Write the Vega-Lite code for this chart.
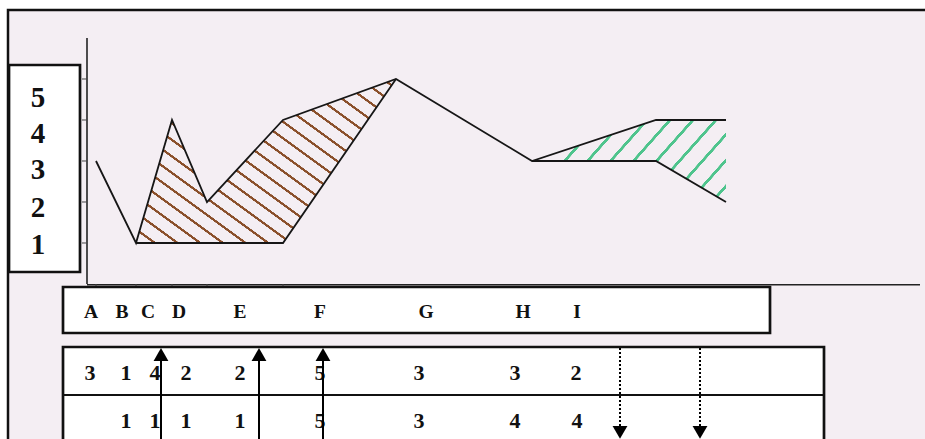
{
  "$schema": "https://vega.github.io/schema/vega-lite/v6.json",
  "width": 925,
  "height": 439,
  "autosize": {"type": "none"},
  "padding": 0,
  "background": "#ffffff",
  "view": {"stroke": null},
  "config": {
    "text": {"font": "Liberation Serif", "fontWeight": "bold", "align": "center", "baseline": "middle", "color": "#111111"}
  },
  "datasets": {
    "series": [
      {"pt": "A", "x": 0.9, "upper": 3, "lower": null, "zone": null},
      {"pt": "B", "x": 4.9, "upper": 1, "lower": 1, "zone": "brown"},
      {"pt": "C", "x": 8.5, "upper": 4, "lower": 1, "zone": "brown"},
      {"pt": "D", "x": 12.0, "upper": 2, "lower": 1, "zone": "brown"},
      {"pt": "E", "x": 19.6, "upper": 4, "lower": 1, "zone": "brown"},
      {"pt": "F", "x": 30.9, "upper": 5, "lower": 5, "zone": "brown"},
      {"pt": "G", "x": 44.5, "upper": 3, "lower": 3, "zone": "green"},
      {"pt": "H", "x": 56.9, "upper": 4, "lower": 3, "zone": "green"},
      {"pt": "I", "x": 63.9, "upper": 4, "lower": 2, "zone": "green"}
    ],
    "yticks": [{"v": 1}, {"v": 2}, {"v": 3}, {"v": 4}, {"v": 5}],
    "ylabels": [
      {"text": "5", "pos": 4.537},
      {"text": "4", "pos": 3.659},
      {"text": "3", "pos": 2.78},
      {"text": "2", "pos": 1.854},
      {"text": "1", "pos": 0.951}
    ],
    "boxes": [
      {"box": "ylabels", "x": -7.8, "x2": -0.7, "y": 5.341, "y2": 0.293},
      {"box": "letters", "x": -2.4, "x2": 68.3, "y": -0.073, "y2": -1.195},
      {"box": "table", "x": -2.4, "x2": 73.7, "y": -1.537, "y2": -4.3}
    ],
    "labels": [
      {"row": "letters", "text": "A", "x": 0.4},
      {"row": "letters", "text": "B", "x": 3.5},
      {"row": "letters", "text": "C", "x": 6.1},
      {"row": "letters", "text": "D", "x": 9.2},
      {"row": "letters", "text": "E", "x": 15.3},
      {"row": "letters", "text": "F", "x": 23.3},
      {"row": "letters", "text": "G", "x": 33.9},
      {"row": "letters", "text": "H", "x": 43.6},
      {"row": "letters", "text": "I", "x": 49.0},
      {"row": "r1", "text": "3", "x": 0.3},
      {"row": "r1", "text": "1", "x": 3.9},
      {"row": "r1", "text": "4", "x": 6.8},
      {"row": "r1", "text": "2", "x": 9.9},
      {"row": "r1", "text": "2", "x": 15.3},
      {"row": "r1", "text": "5", "x": 23.3},
      {"row": "r1", "text": "3", "x": 33.2},
      {"row": "r1", "text": "3", "x": 42.8},
      {"row": "r1", "text": "2", "x": 48.9},
      {"row": "r2", "text": "1", "x": 3.9},
      {"row": "r2", "text": "1", "x": 6.8},
      {"row": "r2", "text": "1", "x": 9.9},
      {"row": "r2", "text": "1", "x": 15.3},
      {"row": "r2", "text": "5", "x": 23.3},
      {"row": "r2", "text": "3", "x": 33.2},
      {"row": "r2", "text": "4", "x": 42.8},
      {"row": "r2", "text": "4", "x": 49.0}
    ],
    "arrows": [
      {"x": 7.4, "dir": "up"},
      {"x": 17.2, "dir": "up"},
      {"x": 23.6, "dir": "up"},
      {"x": 53.3, "dir": "down"},
      {"x": 61.3, "dir": "down"}
    ],
    "one": [{}]
  },
  "layer": [
    {
      "data": {"name": "one"},
      "mark": {"type": "rect", "fill": "#f4eef3", "stroke": "#111111", "strokeWidth": 2.5, "clip": true},
      "encoding": {
        "x": {"datum": -7.9, "type": "quantitative", "scale": {"domain": [-8.7, 83.8], "nice": false, "zero": false}, "axis": null},
        "x2": {"datum": 95},
        "y": {"datum": 6.683, "type": "quantitative", "scale": {"domain": [-3.7805, 6.9268], "nice": false, "zero": false}, "axis": null},
        "y2": {"datum": -5}
      }
    },
    {
      "data": {"name": "series"},
      "transform": [{"filter": "datum.zone === 'brown'"}],
      "mark": {
        "type": "area",
        "color": {
          "gradient": "linear", "x1": 0, "y1": 1, "x2": 1.066, "y2": 0.076,
          "stops": [
            {"offset": 0, "color": "#f4eef3"},
            {"offset": 0.0345, "color": "#f4eef3"}, {"offset": 0.0355, "color": "#8a4f2a"}, {"offset": 0.0425, "color": "#8a4f2a"}, {"offset": 0.0435, "color": "#f4eef3"},
            {"offset": 0.0812, "color": "#f4eef3"}, {"offset": 0.0822, "color": "#8a4f2a"}, {"offset": 0.0892, "color": "#8a4f2a"}, {"offset": 0.0902, "color": "#f4eef3"},
            {"offset": 0.1279, "color": "#f4eef3"}, {"offset": 0.1289, "color": "#8a4f2a"}, {"offset": 0.1359, "color": "#8a4f2a"}, {"offset": 0.1369, "color": "#f4eef3"},
            {"offset": 0.1746, "color": "#f4eef3"}, {"offset": 0.1756, "color": "#8a4f2a"}, {"offset": 0.1826, "color": "#8a4f2a"}, {"offset": 0.1836, "color": "#f4eef3"},
            {"offset": 0.2213, "color": "#f4eef3"}, {"offset": 0.2223, "color": "#8a4f2a"}, {"offset": 0.2293, "color": "#8a4f2a"}, {"offset": 0.2303, "color": "#f4eef3"},
            {"offset": 0.268, "color": "#f4eef3"}, {"offset": 0.269, "color": "#8a4f2a"}, {"offset": 0.276, "color": "#8a4f2a"}, {"offset": 0.277, "color": "#f4eef3"},
            {"offset": 0.3147, "color": "#f4eef3"}, {"offset": 0.3157, "color": "#8a4f2a"}, {"offset": 0.3227, "color": "#8a4f2a"}, {"offset": 0.3237, "color": "#f4eef3"},
            {"offset": 0.3614, "color": "#f4eef3"}, {"offset": 0.3624, "color": "#8a4f2a"}, {"offset": 0.3694, "color": "#8a4f2a"}, {"offset": 0.3704, "color": "#f4eef3"},
            {"offset": 0.4081, "color": "#f4eef3"}, {"offset": 0.4091, "color": "#8a4f2a"}, {"offset": 0.4161, "color": "#8a4f2a"}, {"offset": 0.4171, "color": "#f4eef3"},
            {"offset": 0.4548, "color": "#f4eef3"}, {"offset": 0.4558, "color": "#8a4f2a"}, {"offset": 0.4628, "color": "#8a4f2a"}, {"offset": 0.4638, "color": "#f4eef3"},
            {"offset": 0.5015, "color": "#f4eef3"}, {"offset": 0.5025, "color": "#8a4f2a"}, {"offset": 0.5095, "color": "#8a4f2a"}, {"offset": 0.5105, "color": "#f4eef3"},
            {"offset": 0.5482, "color": "#f4eef3"}, {"offset": 0.5492, "color": "#8a4f2a"}, {"offset": 0.5562, "color": "#8a4f2a"}, {"offset": 0.5572, "color": "#f4eef3"},
            {"offset": 0.5949, "color": "#f4eef3"}, {"offset": 0.5959, "color": "#8a4f2a"}, {"offset": 0.6029, "color": "#8a4f2a"}, {"offset": 0.6039, "color": "#f4eef3"},
            {"offset": 0.6416, "color": "#f4eef3"}, {"offset": 0.6426, "color": "#8a4f2a"}, {"offset": 0.6496, "color": "#8a4f2a"}, {"offset": 0.6506, "color": "#f4eef3"},
            {"offset": 0.6883, "color": "#f4eef3"}, {"offset": 0.6893, "color": "#8a4f2a"}, {"offset": 0.6963, "color": "#8a4f2a"}, {"offset": 0.6973, "color": "#f4eef3"},
            {"offset": 0.735, "color": "#f4eef3"}, {"offset": 0.736, "color": "#8a4f2a"}, {"offset": 0.743, "color": "#8a4f2a"}, {"offset": 0.744, "color": "#f4eef3"},
            {"offset": 0.7817, "color": "#f4eef3"}, {"offset": 0.7827, "color": "#8a4f2a"}, {"offset": 0.7897, "color": "#8a4f2a"}, {"offset": 0.7907, "color": "#f4eef3"},
            {"offset": 0.8284, "color": "#f4eef3"}, {"offset": 0.8294, "color": "#8a4f2a"}, {"offset": 0.8364, "color": "#8a4f2a"}, {"offset": 0.8374, "color": "#f4eef3"},
            {"offset": 0.8751, "color": "#f4eef3"}, {"offset": 0.8761, "color": "#8a4f2a"}, {"offset": 0.8831, "color": "#8a4f2a"}, {"offset": 0.8841, "color": "#f4eef3"},
            {"offset": 0.9218, "color": "#f4eef3"}, {"offset": 0.9228, "color": "#8a4f2a"}, {"offset": 0.9298, "color": "#8a4f2a"}, {"offset": 0.9308, "color": "#f4eef3"},
            {"offset": 0.9685, "color": "#f4eef3"}, {"offset": 0.9695, "color": "#8a4f2a"}, {"offset": 0.9765, "color": "#8a4f2a"}, {"offset": 0.9775, "color": "#f4eef3"},
            {"offset": 1, "color": "#f4eef3"}
          ]
        }
      },
      "encoding": {
        "x": {"field": "x", "type": "quantitative", "scale": {"domain": [-8.7, 83.8], "nice": false, "zero": false}, "axis": null},
        "y": {"field": "upper", "type": "quantitative", "scale": {"domain": [-3.7805, 6.9268], "nice": false, "zero": false}, "axis": null},
        "y2": {"field": "lower"}
      }
    },
    {
      "data": {"name": "series"},
      "transform": [{"filter": "datum.zone === 'green'"}],
      "mark": {
        "type": "area",
        "color": {
          "gradient": "linear", "x1": 0, "y1": 0, "x2": 1.2056, "y2": 0.4537,
          "stops": [
            {"offset": 0, "color": "#f4eef3"},
            {"offset": 0.251, "color": "#f4eef3"}, {"offset": 0.2525, "color": "#4fc48d"}, {"offset": 0.2651, "color": "#4fc48d"}, {"offset": 0.2666, "color": "#f4eef3"},
            {"offset": 0.337, "color": "#f4eef3"}, {"offset": 0.3385, "color": "#4fc48d"}, {"offset": 0.3511, "color": "#4fc48d"}, {"offset": 0.3526, "color": "#f4eef3"},
            {"offset": 0.423, "color": "#f4eef3"}, {"offset": 0.4245, "color": "#4fc48d"}, {"offset": 0.4371, "color": "#4fc48d"}, {"offset": 0.4386, "color": "#f4eef3"},
            {"offset": 0.509, "color": "#f4eef3"}, {"offset": 0.5105, "color": "#4fc48d"}, {"offset": 0.5231, "color": "#4fc48d"}, {"offset": 0.5246, "color": "#f4eef3"},
            {"offset": 0.595, "color": "#f4eef3"}, {"offset": 0.5965, "color": "#4fc48d"}, {"offset": 0.6091, "color": "#4fc48d"}, {"offset": 0.6106, "color": "#f4eef3"},
            {"offset": 0.681, "color": "#f4eef3"}, {"offset": 0.6825, "color": "#4fc48d"}, {"offset": 0.6951, "color": "#4fc48d"}, {"offset": 0.6966, "color": "#f4eef3"},
            {"offset": 0.767, "color": "#f4eef3"}, {"offset": 0.7685, "color": "#4fc48d"}, {"offset": 0.7811, "color": "#4fc48d"}, {"offset": 0.7826, "color": "#f4eef3"},
            {"offset": 0.853, "color": "#f4eef3"}, {"offset": 0.8545, "color": "#4fc48d"}, {"offset": 0.8671, "color": "#4fc48d"}, {"offset": 0.8686, "color": "#f4eef3"},
            {"offset": 0.939, "color": "#f4eef3"}, {"offset": 0.9405, "color": "#4fc48d"}, {"offset": 0.9531, "color": "#4fc48d"}, {"offset": 0.9546, "color": "#f4eef3"},
            {"offset": 1, "color": "#f4eef3"}
          ]
        }
      },
      "encoding": {
        "x": {"field": "x", "type": "quantitative", "scale": {"domain": [-8.7, 83.8], "nice": false, "zero": false}, "axis": null},
        "y": {"field": "upper", "type": "quantitative", "scale": {"domain": [-3.7805, 6.9268], "nice": false, "zero": false}, "axis": null},
        "y2": {"field": "lower"}
      }
    },
    {
      "data": {"name": "series"},
      "mark": {"type": "line", "color": "#161616", "strokeWidth": 1.8},
      "encoding": {
        "x": {"field": "x", "type": "quantitative", "scale": {"domain": [-8.7, 83.8], "nice": false, "zero": false}, "axis": null},
        "y": {"field": "upper", "type": "quantitative", "scale": {"domain": [-3.7805, 6.9268], "nice": false, "zero": false}, "axis": null}
      }
    },
    {
      "data": {"name": "series"},
      "transform": [{"filter": "datum.lower != null"}],
      "mark": {"type": "line", "color": "#161616", "strokeWidth": 1.8},
      "encoding": {
        "x": {"field": "x", "type": "quantitative", "scale": {"domain": [-8.7, 83.8], "nice": false, "zero": false}, "axis": null},
        "y": {"field": "lower", "type": "quantitative", "scale": {"domain": [-3.7805, 6.9268], "nice": false, "zero": false}, "axis": null},
        "detail": {"field": "zone"}
      }
    },
    {
      "data": {"name": "one"},
      "mark": {"type": "rule", "color": "#222222", "strokeWidth": 1.6},
      "encoding": {
        "x": {"datum": 0, "type": "quantitative", "scale": {"domain": [-8.7, 83.8], "nice": false, "zero": false}, "axis": null},
        "y": {"datum": 0, "type": "quantitative", "scale": {"domain": [-3.7805, 6.9268], "nice": false, "zero": false}, "axis": null},
        "y2": {"datum": 6}
      }
    },
    {
      "data": {"name": "one"},
      "mark": {"type": "rule", "color": "#222222", "strokeWidth": 1.6},
      "encoding": {
        "x": {"datum": 0, "type": "quantitative", "scale": {"domain": [-8.7, 83.8], "nice": false, "zero": false}, "axis": null},
        "x2": {"datum": 83.3},
        "y": {"datum": -0.02, "type": "quantitative", "scale": {"domain": [-3.7805, 6.9268], "nice": false, "zero": false}, "axis": null}
      }
    },
    {
      "data": {"name": "yticks"},
      "mark": {"type": "rule", "color": "#444444", "strokeWidth": 1},
      "encoding": {
        "x": {"datum": -0.5, "type": "quantitative", "scale": {"domain": [-8.7, 83.8], "nice": false, "zero": false}, "axis": null},
        "x2": {"datum": 0},
        "y": {"field": "v", "type": "quantitative", "scale": {"domain": [-3.7805, 6.9268], "nice": false, "zero": false}, "axis": null}
      }
    },
    {
      "data": {"name": "series"},
      "transform": [{"filter": {"field": "pt", "oneOf": ["A", "B", "C", "D", "E"]}}],
      "mark": {"type": "rule", "color": "#444444", "strokeWidth": 1},
      "encoding": {
        "x": {"field": "x", "type": "quantitative", "scale": {"domain": [-8.7, 83.8], "nice": false, "zero": false}, "axis": null},
        "y": {"datum": 0, "type": "quantitative", "scale": {"domain": [-3.7805, 6.9268], "nice": false, "zero": false}, "axis": null},
        "y2": {"datum": -0.09}
      }
    },
    {
      "data": {"name": "boxes"},
      "mark": {"type": "rect", "fill": "#ffffff", "stroke": "#111111", "strokeWidth": 2.7, "clip": true},
      "encoding": {
        "x": {"field": "x", "type": "quantitative", "scale": {"domain": [-8.7, 83.8], "nice": false, "zero": false}, "axis": null},
        "x2": {"field": "x2"},
        "y": {"field": "y", "type": "quantitative", "scale": {"domain": [-3.7805, 6.9268], "nice": false, "zero": false}, "axis": null},
        "y2": {"field": "y2"}
      }
    },
    {
      "data": {"name": "one"},
      "mark": {"type": "rule", "color": "#111111", "strokeWidth": 2.2},
      "encoding": {
        "x": {"datum": -2.4, "type": "quantitative", "scale": {"domain": [-8.7, 83.8], "nice": false, "zero": false}, "axis": null},
        "x2": {"datum": 73.7},
        "y": {"datum": -2.707, "type": "quantitative", "scale": {"domain": [-3.7805, 6.9268], "nice": false, "zero": false}, "axis": null}
      }
    },
    {
      "data": {"name": "ylabels"},
      "mark": {"type": "text", "fontSize": 29},
      "encoding": {
        "x": {"datum": -4.9, "type": "quantitative", "scale": {"domain": [-8.7, 83.8], "nice": false, "zero": false}, "axis": null},
        "y": {"field": "pos", "type": "quantitative", "scale": {"domain": [-3.7805, 6.9268], "nice": false, "zero": false}, "axis": null},
        "text": {"field": "text"}
      }
    },
    {
      "data": {"name": "labels"},
      "transform": [{"filter": "datum.row === 'letters'"}],
      "mark": {"type": "text", "fontSize": 19.5},
      "encoding": {
        "x": {"field": "x", "type": "quantitative", "scale": {"domain": [-8.7, 83.8], "nice": false, "zero": false}, "axis": null},
        "y": {"datum": -0.683, "type": "quantitative", "scale": {"domain": [-3.7805, 6.9268], "nice": false, "zero": false}, "axis": null},
        "text": {"field": "text"}
      }
    },
    {
      "data": {"name": "labels"},
      "transform": [{"filter": "datum.row === 'r1'"}],
      "mark": {"type": "text", "fontSize": 22},
      "encoding": {
        "x": {"field": "x", "type": "quantitative", "scale": {"domain": [-8.7, 83.8], "nice": false, "zero": false}, "axis": null},
        "y": {"datum": -2.171, "type": "quantitative", "scale": {"domain": [-3.7805, 6.9268], "nice": false, "zero": false}, "axis": null},
        "text": {"field": "text"}
      }
    },
    {
      "data": {"name": "labels"},
      "transform": [{"filter": "datum.row === 'r2'"}],
      "mark": {"type": "text", "fontSize": 22},
      "encoding": {
        "x": {"field": "x", "type": "quantitative", "scale": {"domain": [-8.7, 83.8], "nice": false, "zero": false}, "axis": null},
        "y": {"datum": -3.34, "type": "quantitative", "scale": {"domain": [-3.7805, 6.9268], "nice": false, "zero": false}, "axis": null},
        "text": {"field": "text"}
      }
    },
    {
      "data": {"name": "arrows"},
      "transform": [{"filter": "datum.dir === 'up'"}],
      "mark": {"type": "rule", "color": "#000000", "strokeWidth": 2},
      "encoding": {
        "x": {"field": "x", "type": "quantitative", "scale": {"domain": [-8.7, 83.8], "nice": false, "zero": false}, "axis": null},
        "y": {"datum": -4.3, "type": "quantitative", "scale": {"domain": [-3.7805, 6.9268], "nice": false, "zero": false}, "axis": null},
        "y2": {"datum": -1.85}
      }
    },
    {
      "data": {"name": "arrows"},
      "transform": [{"filter": "datum.dir === 'up'"}],
      "mark": {"type": "point", "shape": "triangle-up", "filled": true, "color": "#000000", "size": 220, "opacity": 1},
      "encoding": {
        "x": {"field": "x", "type": "quantitative", "scale": {"domain": [-8.7, 83.8], "nice": false, "zero": false}, "axis": null},
        "y": {"datum": -1.72, "type": "quantitative", "scale": {"domain": [-3.7805, 6.9268], "nice": false, "zero": false}, "axis": null}
      }
    },
    {
      "data": {"name": "arrows"},
      "transform": [{"filter": "datum.dir === 'down'"}],
      "mark": {"type": "rule", "color": "#000000", "strokeWidth": 2, "strokeDash": [2, 2]},
      "encoding": {
        "x": {"field": "x", "type": "quantitative", "scale": {"domain": [-8.7, 83.8], "nice": false, "zero": false}, "axis": null},
        "y": {"datum": -1.56, "type": "quantitative", "scale": {"domain": [-3.7805, 6.9268], "nice": false, "zero": false}, "axis": null},
        "y2": {"datum": -3.5}
      }
    },
    {
      "data": {"name": "arrows"},
      "transform": [{"filter": "datum.dir === 'down'"}],
      "mark": {"type": "point", "shape": "triangle-down", "filled": true, "color": "#000000", "size": 220, "opacity": 1},
      "encoding": {
        "x": {"field": "x", "type": "quantitative", "scale": {"domain": [-8.7, 83.8], "nice": false, "zero": false}, "axis": null},
        "y": {"datum": -3.62, "type": "quantitative", "scale": {"domain": [-3.7805, 6.9268], "nice": false, "zero": false}, "axis": null}
      }
    }
  ]
}
